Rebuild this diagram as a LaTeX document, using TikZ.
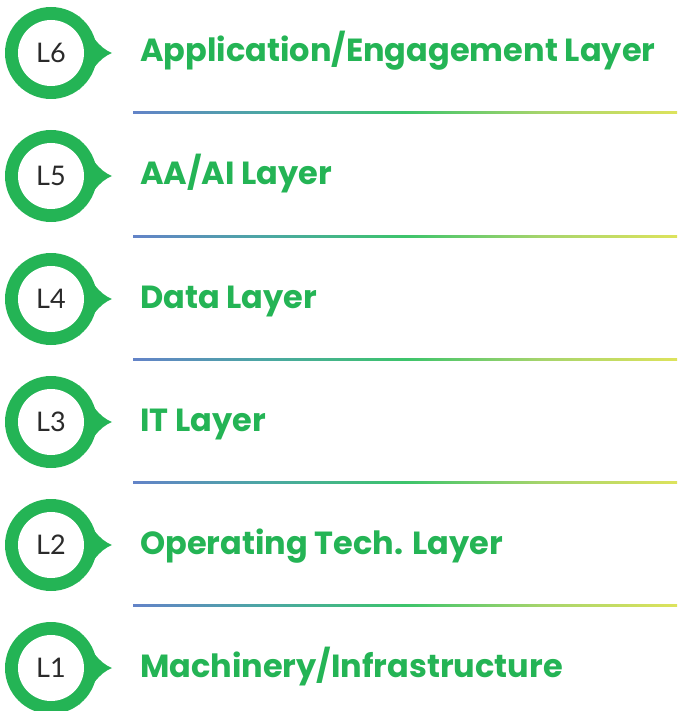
\documentclass[tikz,border=0pt]{standalone}
\usepackage{fontspec}
\setmainfont{Lato}
\newfontfamily\namefont{Poppins}
\usepackage{xcolor}
\definecolor{layergreen}{HTML}{24B455}
\definecolor{lineblue}{HTML}{6383C8}
\definecolor{lineteal}{HTML}{4BA8A2}
\definecolor{linegreen}{HTML}{3CC46B}
\definecolor{linelime}{HTML}{A6D46C}
\definecolor{lineyellow}{HTML}{DDE35C}
\definecolor{tagtext}{HTML}{2A2A2A}
\pgfdeclarehorizontalshading{layerline}{100bp}{color(0bp)=(lineblue); color(25bp)=(lineblue); color(37.5bp)=(lineteal); color(50bp)=(linegreen); color(62.5bp)=(linelime); color(75bp)=(lineyellow); color(100bp)=(lineyellow)}
\tikzset{
	layertag/.style={font=\fontsize{27}{27}\selectfont, text=tagtext, inner sep=0pt},
	layername/.style={font=\namefont\bfseries\fontsize{32}{32}\selectfont, text=layergreen, anchor=base west, inner sep=0pt},
	divider/.style={shading=layerline, draw=none}
}

\begin{document}
\begin{tikzpicture}[x=1pt,y=-1pt]
	\def\rowH{123};
	\def\xTAG{51};
	\def\xTEXT{140};
	\def\ringR{46};
	\def\holeR{33};
	
	\useasboundingbox (0,0) rectangle (677,711);
	
	\foreach \n/\txt [count=\i from 0] in {6/{Application/Engagement Layer}, 5/{AA/AI Layer}, 4/{Data Layer}, 3/{IT Layer}, 2/{Operating Tech. Layer}, 1/{Machinery/Infrastructure}}{
		\begin{scope}[shift={(\xTAG,53+\i*\rowH)}]
			% drop shaped ring
			\fill[layergreen] (0,0) circle (\ringR);
			\fill[layergreen] (61,0) .. controls (48,-5) and (40,-18) .. (28,-37)
				-- (28,37) .. controls (40,18) and (48,5) .. (61,0) -- cycle;
			\fill[white] (0,0) circle (\holeR);
			\node[layertag] (tag\n) at (0,0) {L\n};
		\end{scope}
		\node[layername] (name\n) at (\xTEXT,53+\i*\rowH+9) {\txt};
	}
	
	% gradient dividers
	\foreach \i in {0,...,4}{
		\shade[divider] (133,53+\i*\rowH+59) rectangle (677,53+\i*\rowH+61);
	}
\end{tikzpicture}
\end{document}
